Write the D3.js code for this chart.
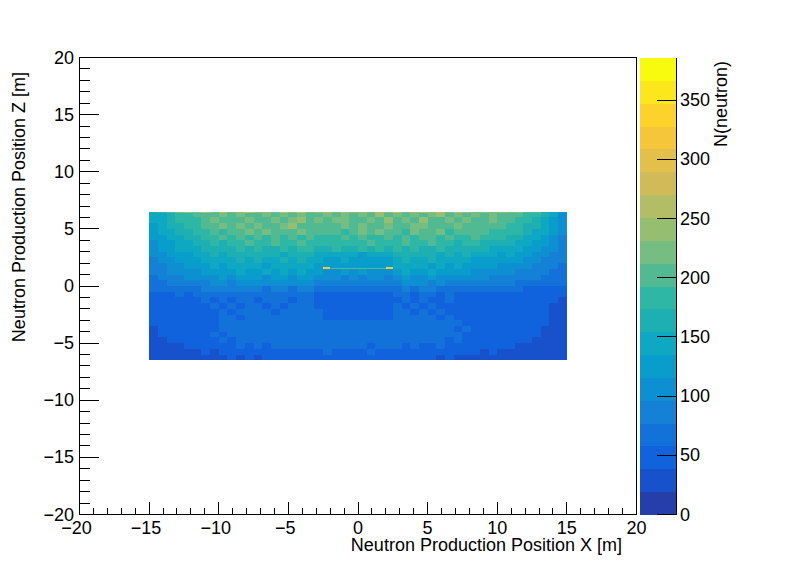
<!DOCTYPE html>
<html><head><meta charset="utf-8">
<script src="https://cdn.jsdelivr.net/npm/d3@7"></script>
<style>html,body{margin:0;padding:0;background:#fff}svg{display:block}text{font-family:"Liberation Sans",Arial,sans-serif;fill:#000}</style>
</head><body><svg id="c" width="796" height="572"></svg>
<script>
const xTitle = "Neutron Production Position X [m]";
const yTitle = "Neutron Production Position Z [m]";
const zTitle = "N(neutron)";
const xTicks = [-20,-15,-10,-5,0,5,10,15,20];
const yTicks = [-20,-15,-10,-5,0,5,10,15,20];
const zTicks = [0,50,100,150,200,250,300,350];
const zMax = 386;
// Column lefts run from -15 m in 0.625 m steps; rows run from z = 6.5 m downward in 0.5 m steps.
const xStart = -15, xStep = 0.625, zStart = 6.5, zStep = 0.5;
const topEdgeRow = [170,190,205,225,240,222,252,230,262,225,245,268,232,250,222,262,238,266,228,246,256,226,264,238,250,228,268,240,256,224,248,266,232,254,226,262,240,228,250,220,240,216,232,206,194,172,150,130];
const counts = [
[138,150,166,178,186,196,208,198,214,204,222,200,210,228,206,218,202,226,212,206,230,208,220,200,224,210,232,206,218,200,226,208,220,234,204,216,208,226,200,218,206,196,210,192,176,158,136,112],
[136,148,162,174,186,192,200,216,202,210,196,222,206,212,228,204,216,236,206,222,200,214,230,208,204,222,208,232,200,218,206,234,210,198,222,204,226,210,196,214,194,204,186,176,166,150,128,108],
[130,142,156,168,178,188,194,204,216,196,218,204,224,200,210,220,232,204,210,196,208,198,218,204,222,200,210,228,204,196,216,230,200,212,206,224,198,210,204,194,206,188,182,170,158,142,124,104],
[122,136,150,162,170,182,188,196,190,208,196,214,198,222,202,208,196,216,202,194,200,208,192,202,214,196,218,198,208,192,216,202,196,224,190,206,208,194,200,188,184,192,174,164,150,136,118,100],
[116,128,142,152,162,172,182,176,194,184,202,188,210,190,202,184,212,192,198,186,192,182,202,188,204,192,184,208,190,212,186,196,210,184,200,190,186,196,182,176,182,168,162,154,142,128,112,96],
[110,122,134,144,154,162,170,178,170,186,176,194,180,174,198,182,178,200,184,176,184,178,190,176,184,196,178,190,174,200,184,176,194,180,186,170,184,174,168,172,160,156,150,142,132,120,106,92],
[106,116,126,136,144,150,160,166,170,164,178,168,184,172,164,180,172,188,176,166,168,176,162,172,180,166,184,172,188,164,176,168,162,180,170,164,168,158,164,154,150,146,140,134,124,112,100,88],
[100,108,118,128,134,142,148,156,150,164,156,168,158,172,162,154,170,160,166,152,142,136,148,138,134,146,136,150,160,170,156,166,158,148,164,152,158,148,142,140,134,136,128,122,114,104,94,82],
[94,102,110,118,126,132,138,144,150,142,156,148,158,150,142,158,150,160,152,142,128,124,136,128,126,134,124,130,146,158,148,138,156,148,140,150,140,134,130,128,126,120,116,110,104,96,88,78],
[88,96,104,112,118,124,130,136,132,144,138,148,140,134,148,138,144,152,140,134,120,128,118,126,116,130,122,118,138,146,136,148,134,140,130,138,128,124,120,118,112,110,106,102,96,90,82,74],
[82,90,98,104,110,114,122,126,122,132,136,128,134,142,128,136,130,140,132,126,112,106,118,110,120,108,114,106,130,136,126,132,140,126,130,120,116,112,110,108,104,100,96,94,88,82,76,70],
[76,82,88,96,100,106,110,114,118,112,122,116,120,114,124,118,112,122,118,110,98,104,96,102,94,100,106,94,112,118,114,108,120,110,112,106,104,100,98,96,92,90,86,84,80,74,70,64],
[68,74,80,84,88,92,96,98,104,96,104,100,106,98,102,108,100,104,98,94,84,88,80,86,82,90,82,78,96,102,98,104,94,100,92,90,88,86,84,82,80,78,76,72,70,68,62,58],
[58,62,66,70,72,76,78,80,84,78,86,80,82,76,84,80,76,82,78,74,66,70,64,68,72,64,70,66,76,80,74,78,82,76,74,70,70,66,66,64,62,60,58,56,56,54,50,48],
[48,50,54,58,56,60,58,62,64,60,66,62,58,64,60,64,58,62,60,56,52,48,54,50,56,48,52,50,58,60,56,62,58,56,60,54,52,54,50,48,50,46,48,44,46,44,42,40],
[46,48,50,54,52,56,58,52,60,56,62,58,54,60,58,62,56,60,58,54,48,52,46,50,54,48,50,46,56,58,54,60,56,50,58,54,50,52,48,46,48,44,46,42,44,42,40,38],
[44,48,46,52,54,50,56,58,54,60,56,62,58,54,60,56,62,58,60,56,50,46,52,48,44,50,48,52,58,54,60,56,58,54,56,52,54,48,50,46,44,48,42,44,40,42,38,38],
[42,46,48,50,48,54,52,56,60,56,62,58,64,60,56,62,58,64,60,58,52,48,50,46,52,48,54,50,60,62,56,60,54,58,54,56,50,52,46,48,46,44,46,42,44,40,38,36],
[42,44,46,48,52,50,56,54,58,62,56,64,60,58,64,60,62,58,64,60,54,50,56,52,48,54,50,54,62,58,64,60,62,56,58,54,56,50,52,48,50,46,44,46,42,44,38,36],
[40,42,46,44,50,54,50,56,60,58,64,60,66,62,58,66,62,60,64,62,64,60,66,62,58,64,60,66,62,66,60,64,58,62,58,60,54,56,50,52,48,50,46,44,42,40,38,34],
[38,42,44,48,46,52,56,54,60,64,58,66,62,68,64,60,66,64,68,62,66,62,68,64,60,66,62,68,64,60,66,62,64,60,62,56,58,52,54,50,48,46,48,42,44,38,36,34],
[36,40,42,46,50,48,54,58,56,62,60,66,64,60,68,64,62,68,64,66,62,68,64,60,66,70,64,62,68,64,60,66,62,58,60,58,54,56,50,52,46,48,44,42,40,38,34,32],
[34,38,40,44,46,50,48,54,58,56,62,58,64,60,66,62,68,64,60,66,64,60,66,62,68,64,60,66,62,64,60,62,58,60,56,58,52,54,48,46,48,44,42,40,38,36,34,30],
[30,36,38,36,42,46,44,50,48,54,58,54,60,56,62,58,64,60,62,58,60,64,58,62,60,56,62,58,60,54,58,56,54,58,52,50,48,50,44,46,42,40,38,36,34,32,30,28],
[28,30,34,38,34,38,42,36,44,48,44,50,46,52,48,54,50,56,52,54,58,52,56,50,54,58,50,54,52,48,54,48,50,46,48,44,42,46,38,42,36,38,34,32,34,28,30,26],
[24,28,26,32,28,34,30,36,32,40,34,42,38,44,40,46,42,48,44,50,46,52,46,50,48,44,50,46,48,42,46,40,44,38,42,36,38,32,36,30,32,28,30,26,24,28,22,24]
];
// Narrow features: x0, x1, z0, z1 in metres and their counts.
const stripX0 = [-2.5,-2.0,2.0];
const stripX1 = [-2.0,2.0,2.5];
const stripZ0 = [1.45,1.5,1.45];
const stripZ1 = [1.7,1.6,1.7];
const stripV  = [320,195,325];

const bird = [[.2082,.1664,.5293],[.0592,.3599,.8684],[.0780,.5041,.8385],[.0232,.6419,.7914],[.1802,.7178,.6425],[.5301,.7492,.4662],[.8186,.7328,.3499],[.9956,.7862,.1968],[.9764,.9832,.0539]]
  .map(c => d3.rgb(c[0]*255,c[1]*255,c[2]*255));
const birdScale = d3.scaleLinear().domain(bird.map((_,i)=>i/8)).range(bird).interpolate(d3.interpolateRgb);
const bands = d3.range(20).map(i => birdScale((i+1)/20));
const zColor = d3.scaleQuantize().domain([0,zMax]).range(bands);

const frame = {l:79.5,r:636.5,t:57.5,b:514.5};
const bar = {l:640,r:676.5};
const x = d3.scaleLinear().domain([-20,20]).range([frame.l,frame.r]);
const y = d3.scaleLinear().domain([-20,20]).range([frame.b,frame.t]);
const z = d3.scaleLinear().domain([0,zMax]).range([frame.b,frame.t]);
const svg = d3.select("#c");
const fmt = v => String(v).replace("-","\u2212");
const FS = 18, TS = 18;

const plot = svg.append("g").attr("shape-rendering","crispEdges");
const cells = [];
counts.forEach((row,j)=>row.forEach((v,i)=>cells.push({x0:xStart+i*xStep,x1:xStart+(i+1)*xStep,z1:zStart-j*zStep,z0:zStart-(j+1)*zStep,v})));
topEdgeRow.forEach((v,i)=>cells.push({x0:xStart+i*xStep,x1:xStart+(i+1)*xStep,z1:zStart,z0:zStart-0.1,v}));
stripV.forEach((v,i)=>cells.push({x0:stripX0[i],x1:stripX1[i],z0:stripZ0[i],z1:stripZ1[i],v}));
plot.selectAll("rect.c").data(cells).join("rect").attr("class","c")
  .attr("x",d=>x(d.x0)).attr("width",d=>x(d.x1)-x(d.x0))
  .attr("y",d=>y(d.z1)).attr("height",d=>y(d.z0)-y(d.z1))
  .attr("fill",d=>zColor(d.v));

// palette
const bandH = (frame.b-frame.t)/bands.length;
svg.append("g").attr("shape-rendering","crispEdges").selectAll("rect").data(bands).join("rect")
  .attr("x",bar.l).attr("width",bar.r-bar.l)
  .attr("y",(d,i)=>z((i+1)*zMax/20)).attr("height",bandH+0.5).attr("fill",d=>d);

// frame + ticks
const axes = svg.append("g").attr("stroke","#000").attr("stroke-width",1).attr("fill","none").attr("shape-rendering","crispEdges");
axes.append("rect").attr("x",frame.l).attr("y",frame.t).attr("width",frame.r-frame.l).attr("height",frame.b-frame.t);
axes.append("line").attr("x1",bar.r).attr("x2",bar.r).attr("y1",frame.t).attr("y2",frame.b);
const minors = d3.range(-20,20.01,1);
axes.selectAll("line.xt").data(minors).join("line").attr("class","xt")
  .attr("x1",d=>x(d)).attr("x2",d=>x(d)).attr("y1",frame.b)
  .attr("y2",d=>frame.b-(xTicks.includes(d)?12.5:6.5));
axes.selectAll("line.yt").data(minors).join("line").attr("class","yt")
  .attr("y1",d=>y(d)).attr("y2",d=>y(d)).attr("x1",frame.l)
  .attr("x2",d=>frame.l+(yTicks.includes(d)?19.5:10.5));
axes.selectAll("line.zt").data(zTicks).join("line").attr("class","zt")
  .attr("y1",d=>z(d)).attr("y2",d=>z(d)).attr("x1",bar.r).attr("x2",bar.r-19.5);

const tx = svg.append("g").attr("font-size",FS);
tx.selectAll("text.x").data(xTicks).join("text").attr("class","x")
  .attr("x",d=>x(d)-(d<0?3:0)).attr("y",534).attr("text-anchor","middle").text(fmt);
tx.selectAll("text.y").data(yTicks).join("text").attr("class","y")
  .attr("x",74).attr("y",d=>y(d)+6).attr("text-anchor","end").text(fmt);
tx.selectAll("text.z").data(zTicks).join("text").attr("class","z")
  .attr("x",680).attr("y",d=>z(d)+6).attr("text-anchor","start").text(String);
svg.append("text").attr("font-size",TS).attr("x",622).attr("y",551).attr("text-anchor","end").text(xTitle);
svg.append("text").attr("font-size",TS).attr("text-anchor","end").attr("transform","translate(25,72) rotate(-90)").text(yTitle);
svg.append("text").attr("font-size",TS).attr("text-anchor","end").attr("transform","translate(727,61) rotate(-90)").text(zTitle);
</script></body></html>
